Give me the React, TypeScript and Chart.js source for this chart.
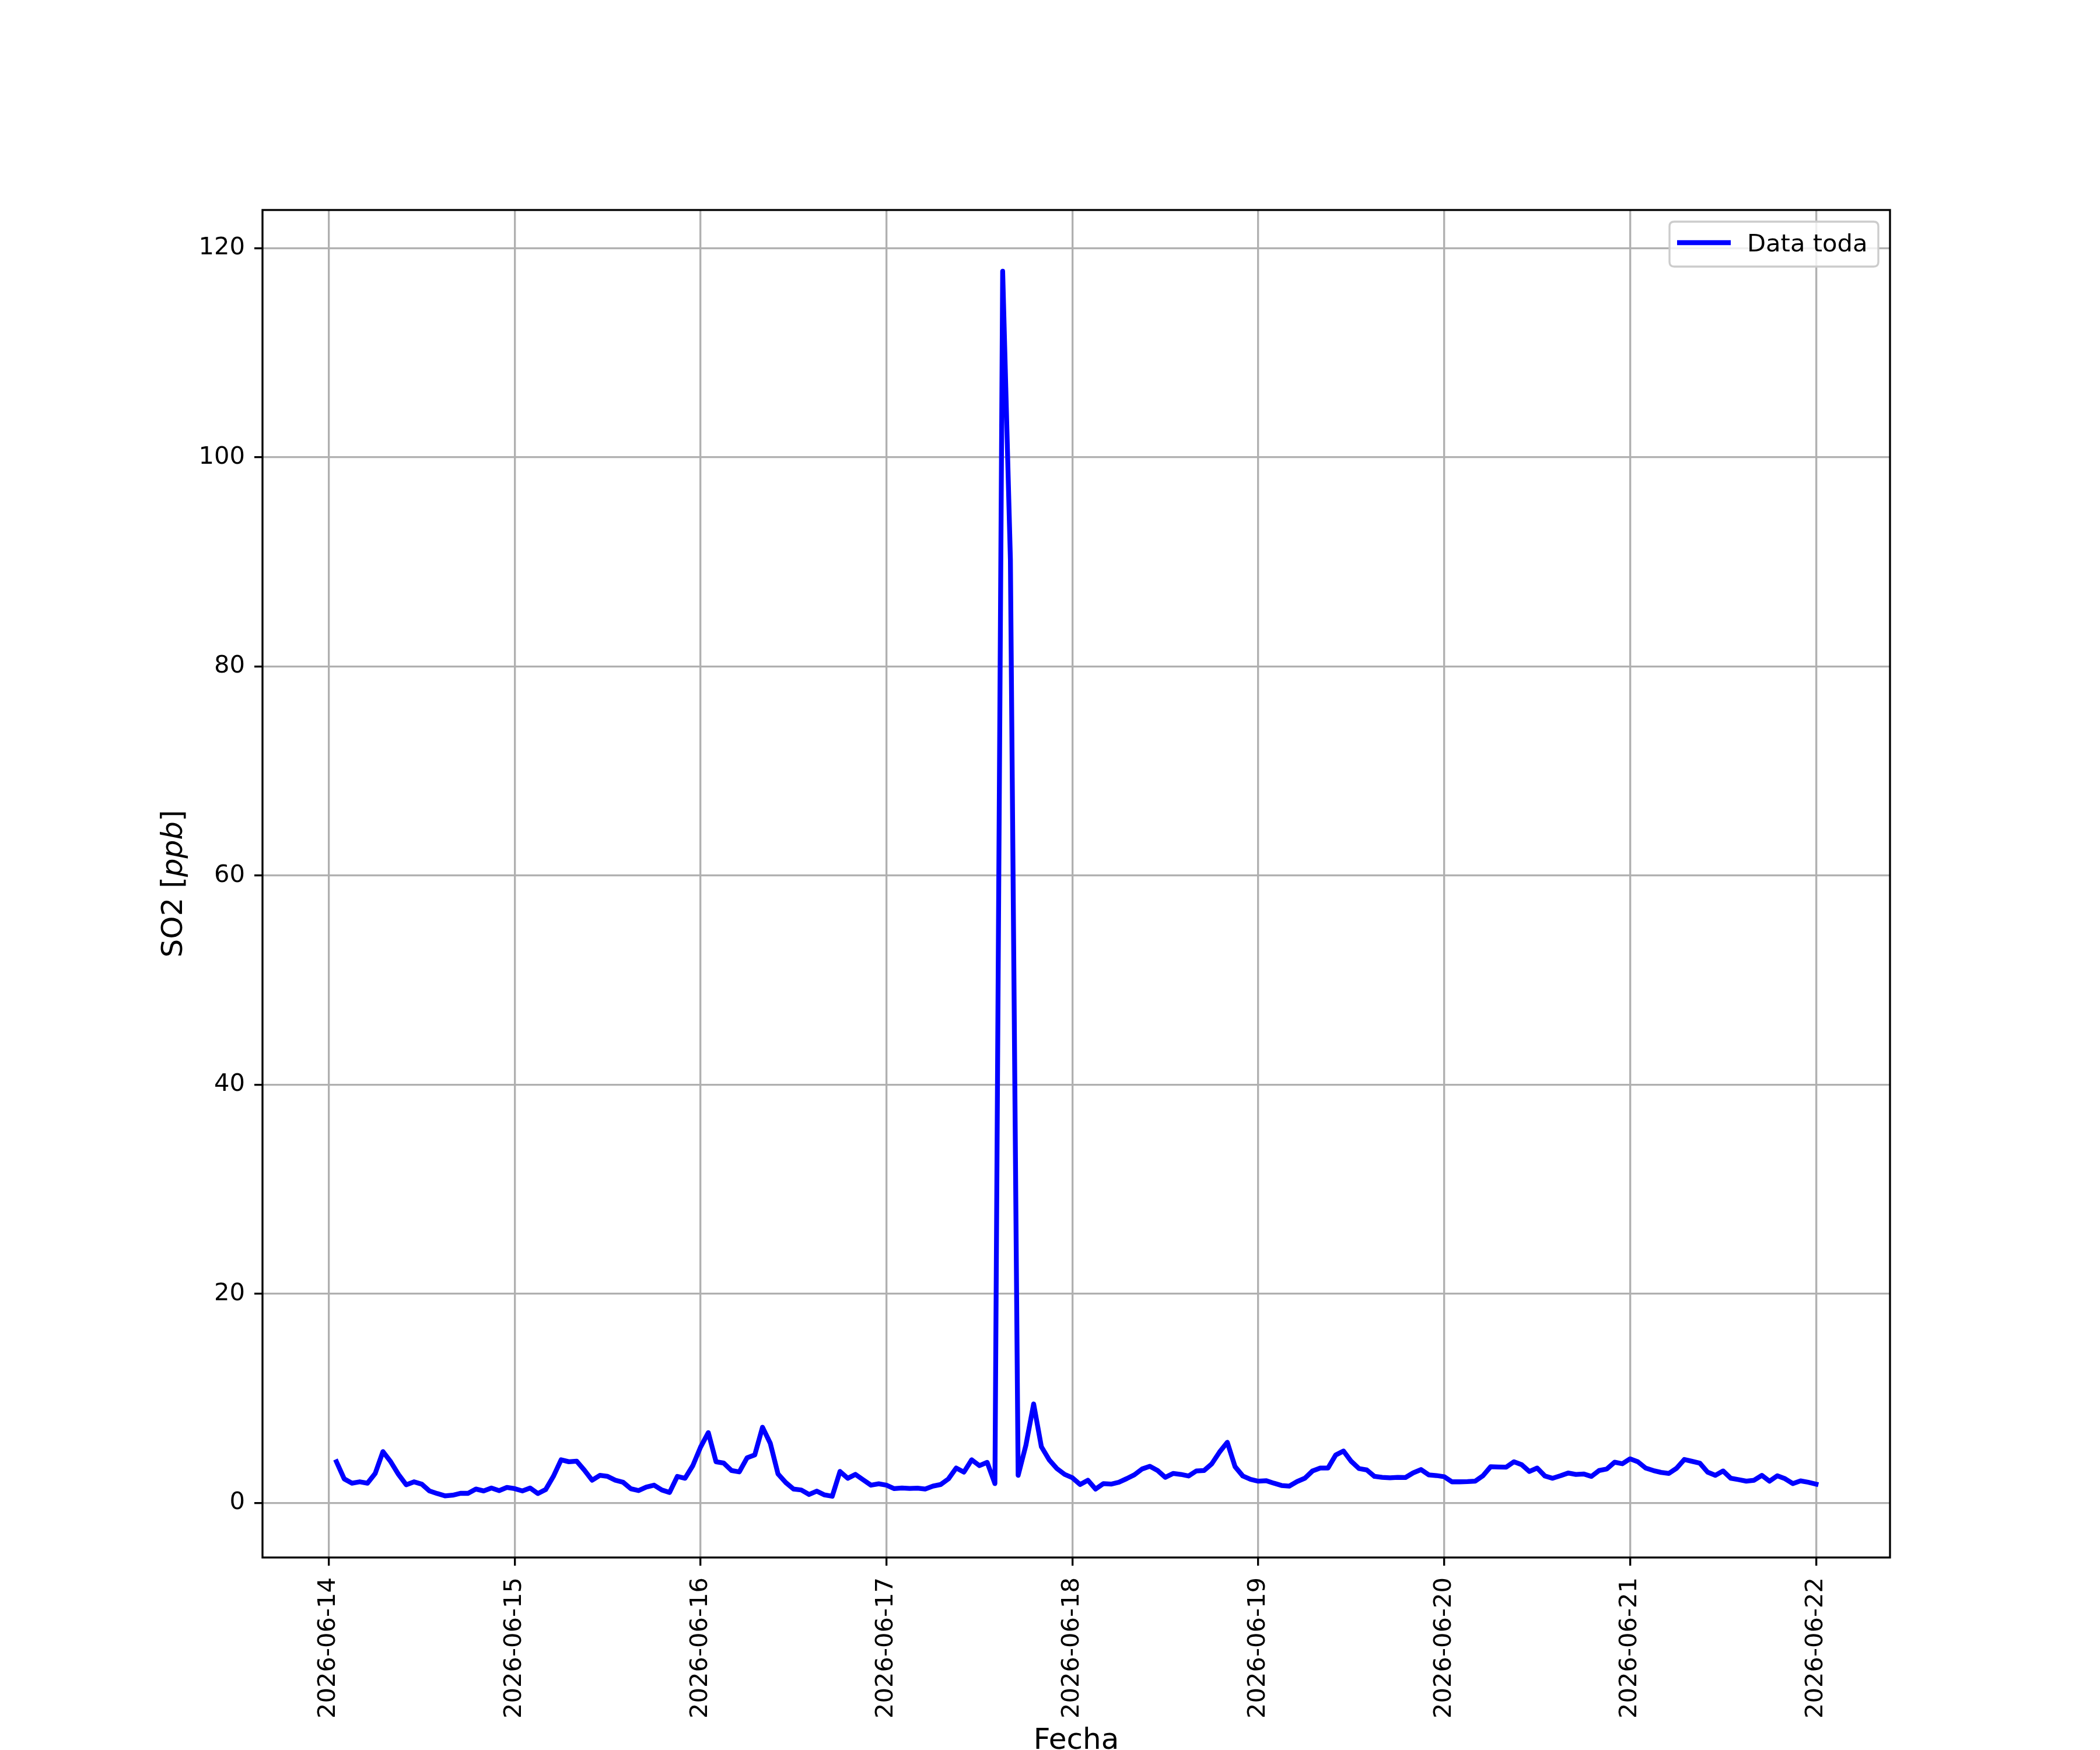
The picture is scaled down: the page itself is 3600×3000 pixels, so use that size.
import React, { useEffect, useRef } from "react";
import { Chart, registerables } from "chart.js";

Chart.register(...registerables);

// Hourly SO2 readings, first reading at 2026-06-14 01:00 (hour 1), last at 2026-06-22 00:00 (hour 192)
const firstHour = 1;
const so2Jun14 = [3.93, 2.29, 1.88, 2.01, 1.88, 2.81, 4.9, 3.93, 2.72, 1.73, 2.01, 1.79, 1.14, 0.89, 0.67, 0.73, 0.91, 0.91, 1.32, 1.14, 1.42, 1.17, 1.47, 1.36];
const so2Jun15 = [1.14, 1.42, 0.89, 1.27, 2.53, 4.12, 3.93, 3.99, 3.13, 2.16, 2.63, 2.53, 2.16, 1.97, 1.35, 1.17, 1.51, 1.69, 1.23, 0.99, 2.53, 2.35, 3.56, 5.33];
const so2Jun16 = [6.72, 3.93, 3.8, 3.09, 2.96, 4.3, 4.58, 7.23, 5.7, 2.76, 1.94, 1.32, 1.23, 0.8, 1.12, 0.76, 0.63, 3.0, 2.35, 2.72, 2.2, 1.69, 1.82, 1.69];
const so2Jun17 = [1.36, 1.42, 1.38, 1.4, 1.32, 1.6, 1.75, 2.29, 3.33, 2.94, 4.12, 3.56, 3.87, 1.84, 117.8, 90.2, 2.63, 5.51, 9.46, 5.36, 4.12, 3.28, 2.72, 2.4];
const so2Jun18 = [1.75, 2.16, 1.32, 1.84, 1.79, 1.97, 2.31, 2.68, 3.24, 3.5, 3.09, 2.44, 2.81, 2.72, 2.57, 3.05, 3.09, 3.74, 4.86, 5.79, 3.46, 2.57, 2.25, 2.07];
const so2Jun19 = [2.12, 1.88, 1.66, 1.6, 2.03, 2.35, 3.05, 3.33, 3.33, 4.58, 4.95, 3.97, 3.28, 3.15, 2.53, 2.44, 2.4, 2.44, 2.42, 2.87, 3.18, 2.68, 2.61, 2.5];
const so2Jun20 = [2.01, 2.01, 2.03, 2.07, 2.59, 3.46, 3.43, 3.41, 3.93, 3.65, 3.0, 3.33, 2.57, 2.35, 2.59, 2.85, 2.72, 2.76, 2.53, 3.09, 3.24, 3.89, 3.74, 4.21];
const so2Jun21 = [3.93, 3.33, 3.09, 2.91, 2.81, 3.31, 4.15, 3.97, 3.8, 2.94, 2.63, 3.05, 2.35, 2.22, 2.07, 2.16, 2.63, 2.07, 2.59, 2.31, 1.84, 2.1, 1.97, 1.79];

const dateTickLabels = ["2026-06-14", "2026-06-15", "2026-06-16", "2026-06-17", "2026-06-18", "2026-06-19", "2026-06-20", "2026-06-21", "2026-06-22"];
const yTickValues = [0, 20, 40, 60, 80, 100, 120];
const seriesName = "Data toda";
const xTitle = "Fecha";

const FAMILY = "'DejaVu Sans'";

export default function App() {
  const canvasRef = useRef<HTMLCanvasElement | null>(null);

  useEffect(() => {
    const canvas = canvasRef.current;
    if (!canvas) return;

    const values = [...so2Jun14, ...so2Jun15, ...so2Jun16, ...so2Jun17, ...so2Jun18, ...so2Jun19, ...so2Jun20, ...so2Jun21];
    const points = values.map((v, i) => ({ x: firstHour + i, y: v }));
    const xMin = firstHour;
    const xMax = firstHour + values.length - 1;
    const yMin = Math.min(...values);
    const yMax = Math.max(...values);
    const xPad = 0.05 * (xMax - xMin);
    const yPad = 0.05 * (yMax - yMin);

    const decorPlugin = {
      id: "mplDecor",
      afterDraw(chart: any) {
        const { ctx, chartArea: a } = chart;
        ctx.save();
        // axes frame
        ctx.strokeStyle = "#000000";
        ctx.lineWidth = 3.33;
        ctx.strokeRect(a.left, a.top, a.right - a.left, a.bottom - a.top);

        // legend
        const bw = 358;
        const bh = 77;
        const bx = a.right - 20 - bw;
        const by = a.top + 20;
        const r = 8;
        ctx.beginPath();
        ctx.moveTo(bx + r, by);
        ctx.lineTo(bx + bw - r, by);
        ctx.quadraticCurveTo(bx + bw, by, bx + bw, by + r);
        ctx.lineTo(bx + bw, by + bh - r);
        ctx.quadraticCurveTo(bx + bw, by + bh, bx + bw - r, by + bh);
        ctx.lineTo(bx + r, by + bh);
        ctx.quadraticCurveTo(bx, by + bh, bx, by + bh - r);
        ctx.lineTo(bx, by + r);
        ctx.quadraticCurveTo(bx, by, bx + r, by);
        ctx.closePath();
        ctx.fillStyle = "rgba(255,255,255,0.8)";
        ctx.fill();
        ctx.strokeStyle = "#cccccc";
        ctx.lineWidth = 3.33;
        ctx.stroke();

        ctx.beginPath();
        ctx.moveTo(bx + 13, by + 36);
        ctx.lineTo(bx + 105, by + 36);
        ctx.strokeStyle = "#0000ff";
        ctx.lineWidth = 8.3;
        ctx.lineCap = "butt";
        ctx.stroke();

        ctx.fillStyle = "#000000";
        ctx.font = `41.67px ${FAMILY}`;
        ctx.textAlign = "left";
        ctx.textBaseline = "alphabetic";
        ctx.fillText(seriesName, bx + 133, by + 51);

        // y axis title: SO2 [ppb] with italic ppb
        const segs = [
          { t: "SO2 [", f: `50px ${FAMILY}` },
          { t: "ppb", f: `italic 50px ${FAMILY}` },
          { t: "]", f: `50px ${FAMILY}` },
        ];
        let total = 0;
        for (const s of segs) {
          ctx.font = s.f;
          total += ctx.measureText(s.t).width;
        }
        ctx.save();
        ctx.translate(a.left - 138, (a.top + a.bottom) / 2);
        ctx.rotate(-Math.PI / 2);
        let cx = -total / 2;
        for (const s of segs) {
          ctx.font = s.f;
          ctx.fillText(s.t, cx, 0);
          cx += ctx.measureText(s.t).width;
        }
        ctx.restore();

        // x axis title
        ctx.font = `50px ${FAMILY}`;
        ctx.textAlign = "center";
        ctx.textBaseline = "alphabetic";
        ctx.fillText(xTitle, (a.left + a.right) / 2, 2998);
        ctx.restore();
      },
    };

    const chart = new Chart(canvas, {
      type: "line",
      data: {
        datasets: [
          {
            label: seriesName,
            data: points,
            borderColor: "#0000ff",
            backgroundColor: "#0000ff",
            borderWidth: 8.3,
            pointRadius: 0,
            pointHoverRadius: 0,
            tension: 0,
            fill: false,
            borderJoinStyle: "round",
            borderCapStyle: "square",
          },
        ],
      },
      options: {
        animation: false,
        responsive: false,
        devicePixelRatio: 1,
        parsing: false as any,
        normalized: true,
        layout: { padding: { top: 360, right: 360, bottom: 0, left: 0 } },
        plugins: {
          legend: { display: false },
          tooltip: { enabled: false },
          title: { display: false },
        },
        scales: {
          x: {
            type: "linear",
            min: xMin - xPad,
            max: xMax + xPad,
            afterBuildTicks: (s: any) => {
              s.ticks = dateTickLabels.map((_, i) => ({ value: i * 24 }));
            },
            afterFit: (s: any) => {
              s.height = 330;
            },
            ticks: {
              autoSkip: false,
              minRotation: 90,
              maxRotation: 90,
              padding: 20,
              color: "#000000",
              font: { family: FAMILY, size: 41.67 },
              callback: (_v: any, i: number) => dateTickLabels[i],
            },
            grid: {
              color: "#b0b0b0",
              lineWidth: 3.33,
              tickColor: "#000000",
              tickLength: 14,
              tickWidth: 3.33,
              drawTicks: true,
            },
            border: { display: false },
            title: { display: false },
          },
          y: {
            type: "linear",
            min: yMin - yPad,
            max: yMax + yPad,
            afterBuildTicks: (s: any) => {
              s.ticks = yTickValues.map((v) => ({ value: v }));
            },
            afterFit: (s: any) => {
              s.width = 450;
            },
            ticks: {
              padding: 16,
              color: "#000000",
              font: { family: FAMILY, size: 41.67 },
              callback: (v: any) => String(v),
            },
            grid: {
              color: "#b0b0b0",
              lineWidth: 3.33,
              tickColor: "#000000",
              tickLength: 14,
              tickWidth: 3.33,
              drawTicks: true,
            },
            border: { display: false },
            title: { display: false },
          },
        },
      },
      plugins: [decorPlugin],
    } as any);

    return () => {
      chart.destroy();
    };
  }, []);

  return (
    <div style={{ position: "absolute", left: 0, top: 0, width: 3600, height: 3000, background: "#ffffff" }}>
      <canvas ref={canvasRef} width={3600} height={3000} style={{ width: 3600, height: 3000, display: "block" }} />
    </div>
  );
}
